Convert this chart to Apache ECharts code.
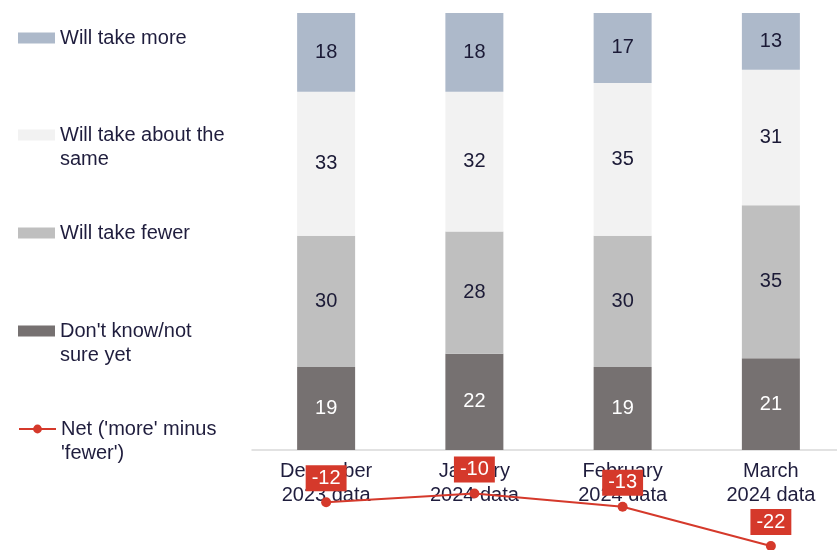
<!DOCTYPE html>
<html>
<head>
<meta charset="utf-8">
<script src="https://cdn.jsdelivr.net/npm/echarts@6/dist/echarts.min.js"></script>
<style>
  html, body { margin: 0; padding: 0; background: #fff; }
  #chart { width: 837px; height: 550px; }
</style>
</head>
<body>
<div id="chart"></div>
<script>
const categories = ['December\n2023 data', 'January\n2024 data', 'February\n2024 data', 'March\n2024 data']
const dontKnow = [19, 22, 19, 21]
const fewer = [30, 28, 30, 35]
const same = [33, 32, 35, 31]
const more = [18, 18, 17, 13]
const net = [-12, -10, -13, -22]

const textColor = '#1f1d3d'
const fontFamily = 'Liberation Sans, Arial, sans-serif'
const yMin = -22
const yMax = 100
const gridTop = 13
const gridHeight = 533

const bar = (name, data, color, labelColor) => ({
  name,
  type: 'bar',
  stack: 'total',
  data,
  barWidth: 58,
  itemStyle: { color },
  label: {
    show: true,
    position: 'inside',
    color: labelColor,
    fontSize: 20,
    fontFamily,
  },
  emphasis: { disabled: true },
})

// one legend per item so each can sit at its own height;
// a blank first line keeps the icon level with the first text line
const legendItem = (name, top, twoLines, icon) => ({
  data: [name],
  left: 18,
  top,
  padding: 0,
  icon,
  itemWidth: 37,
  itemHeight: 11,
  selectedMode: false,
  formatter: (n) => (twoLines ? '\n' + n : n),
  textStyle: {
    color: textColor,
    fontSize: 20,
    fontFamily,
    lineHeight: 24,
  },
})

const chart = echarts.init(document.getElementById('chart'))
chart.setOption({
  animation: false,
  textStyle: { fontFamily },
  legend: [
    legendItem('Will take more', 26, false, 'rect'),
    legendItem('Will take about the\nsame', 99, true, 'rect'),
    legendItem('Will take fewer', 221, false, 'rect'),
    legendItem("Don't know/not\nsure yet", 295, true, 'rect'),
    legendItem("Net ('more' minus\n'fewer')", 393, true),
  ],
  grid: { left: 252, top: gridTop, width: 593, height: gridHeight, outerBoundsMode: 'none' },
  xAxis: {
    type: 'category',
    data: categories,
    position: 'bottom',
    // lift the axis from the grid bottom up to the zero line
    offset: (yMin / (yMax - yMin)) * gridHeight,
    axisLine: { onZero: false, lineStyle: { color: '#d9d9d9', width: 1.5 } },
    axisTick: { show: false },
    axisLabel: {
      color: textColor,
      fontSize: 20,
      lineHeight: 24,
      margin: 10,
      fontFamily,
    },
  },
  yAxis: {
    type: 'value',
    min: yMin,
    max: yMax,
    show: false,
    splitLine: { show: false },
  },
  series: [
    bar("Don't know/not\nsure yet", dontKnow, '#767171', '#ffffff'),
    bar('Will take fewer', fewer, '#bfbfbf', '#1b1a36'),
    bar('Will take about the\nsame', same, '#f2f2f2', '#1b1a36'),
    bar('Will take more', more, '#adb9ca', '#1b1a36'),
    {
      name: "Net ('more' minus\n'fewer')",
      type: 'line',
      data: net,
      color: '#d5392b',
      symbol: 'circle',
      symbolSize: 10,
      lineStyle: { width: 2, color: '#d5392b' },
      itemStyle: { color: '#d5392b' },
      z: 5,
      label: {
        show: true,
        position: 'top',
        distance: 6,
        color: '#ffffff',
        backgroundColor: '#d5392b',
        fontSize: 20,
        fontFamily,
        padding: [3, 6, 3, 6],
      },
      emphasis: { disabled: true },
    },
  ],
})
</script>
</body>
</html>
